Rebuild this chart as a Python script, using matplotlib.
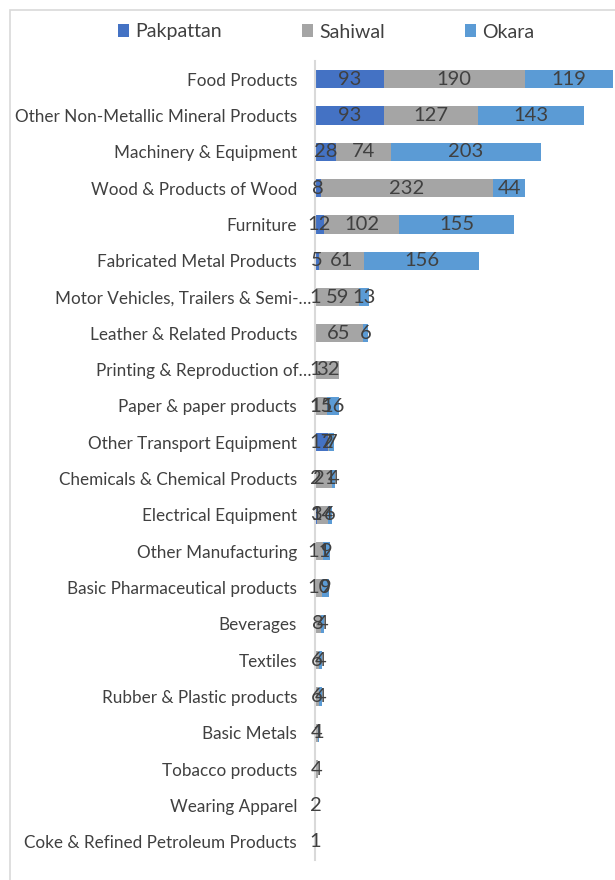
import numpy as np
import matplotlib.pyplot as plt
from matplotlib.patches import Rectangle

# industries per district, top row first
industries = ['Food Products', 'Other Non-Metallic Mineral Products', 'Machinery & Equipment',
              'Wood & Products of Wood', 'Furniture', 'Fabricated Metal Products',
              'Motor Vehicles, Trailers & Semi-…', 'Leather & Related Products',
              'Printing & Reproduction of…', 'Paper & paper products', 'Other Transport Equipment',
              'Chemicals & Chemical Products', 'Electrical Equipment', 'Other Manufacturing',
              'Basic Pharmaceutical products', 'Beverages', 'Textiles', 'Rubber & Plastic products',
              'Basic Metals', 'Tobacco products', 'Wearing Apparel', 'Coke & Refined Petroleum Products']
pakpattan = [93, 93, 28, 8, 12, 5, 1, 0, 1, 1, 17, 2, 3, 0, 0, 0, 0, 0, 0, 0, 0, 0]
sahiwal = [190, 127, 74, 232, 102, 61, 59, 65, 32, 15, 2, 21, 14, 11, 10, 8, 6, 6, 4, 4, 2, 1]
okara = [119, 143, 203, 44, 155, 156, 13, 6, 0, 16, 7, 4, 6, 9, 9, 4, 4, 4, 1, 0, 0, 0]

series = [('Pakpattan', pakpattan, '#4472C4'),
          ('Sahiwal', sahiwal, '#A5A5A5'),
          ('Okara', okara, '#5B9BD5')]

plt.rcParams['font.family'] = ['Lato', 'DejaVu Sans']
fig = plt.figure(figsize=(6.15, 8.8), dpi=100)
ax = fig.add_axes([315/615, 20/880, 300/615, 799/880])

# outer chart border
fig.patches.append(Rectangle((10/615, -0.1), 1.0, 1.1 - 10/880, transform=fig.transFigure,
                             fill=False, edgecolor='#D9D9D9', lw=1.2))

y = np.arange(len(industries))[::-1]
left = np.zeros(len(industries))
handles = []
for name, vals, col in series:
    vals = np.array(vals, dtype=float)
    bars = ax.barh(y, vals, left=left, height=0.5, color=col, label=name)
    labs = [str(int(v)) if v > 0 else '' for v in vals]
    ax.bar_label(bars, labels=labs, label_type='center', fontsize=14.5, color='#404040')
    left += vals
    handles.append(bars)

ax.set_xlim(0, 405)
ax.set_ylim(-0.5, len(industries) - 0.5)
ax.set_xticks([])
ax.set_yticks([])
for s in ['top', 'right', 'bottom']:
    ax.spines[s].set_visible(False)
ax.spines['left'].set_color('#D9D9D9')
ax.spines['left'].set_linewidth(1.5)

# category names, truncated ones sit closer to the axis
for yi, name in zip(y, industries):
    pad = -4 if name.endswith('…') else -18
    ax.annotate(name, (0, yi), xytext=(pad * 0.72, -1), textcoords='offset points',
                ha='right', va='center', fontsize=12.3, color='#404040')

fig.legend(handles=handles, loc='center', bbox_to_anchor=(0.530, 1 - 32/880), ncol=3,
           frameon=False, fontsize=14, handlelength=0.6, handleheight=0.6,
           handletextpad=0.3, columnspacing=4.1, labelcolor='#404040')

fig.savefig('out.png', dpi=100)
